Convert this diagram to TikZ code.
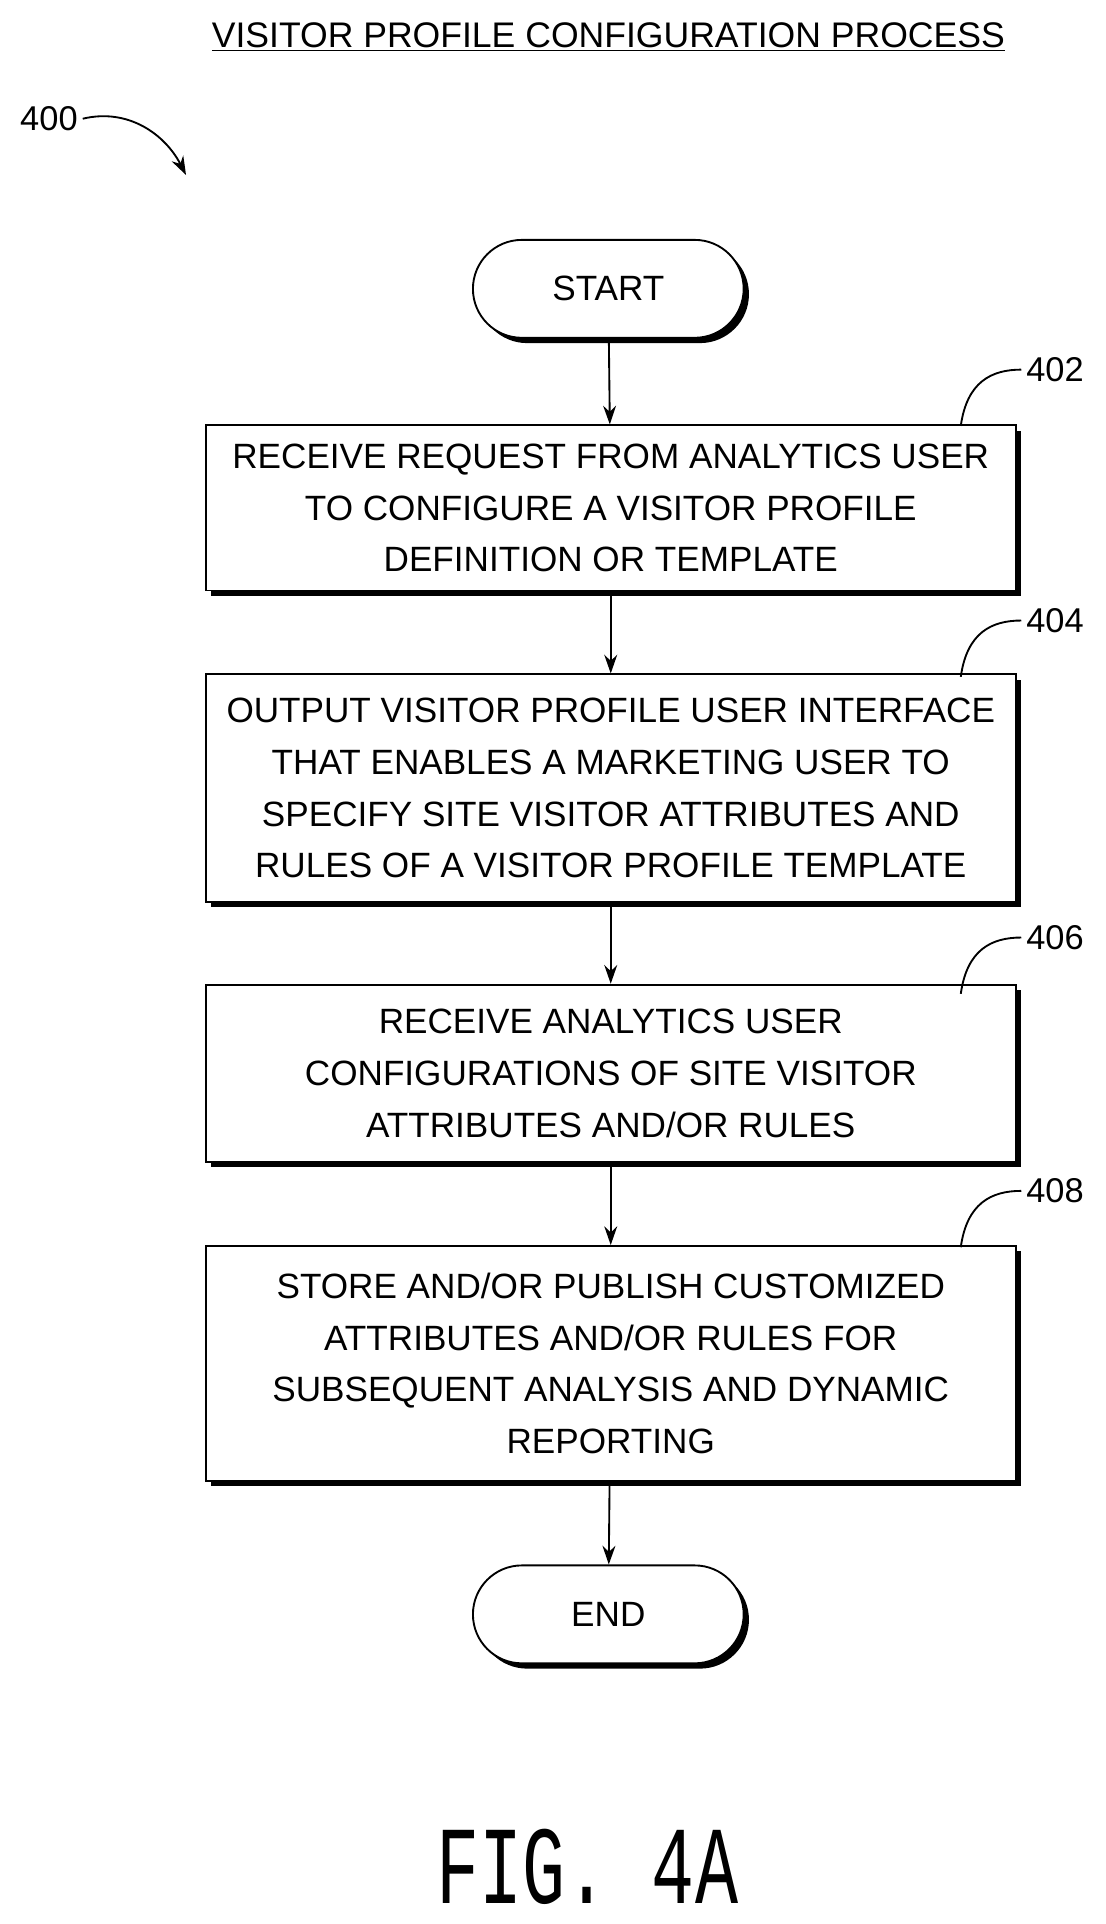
\documentclass[tikz,border=0pt]{standalone}
\usepackage{fontspec}
\setmainfont{Liberation Sans}
\setmonofont{Liberation Mono}
\usetikzlibrary{shapes.misc,shadows,arrows.meta}
\tikzset{
  boxshadow/.style={drop shadow={shadow xshift=0.13cm, shadow yshift=-0.13cm, opacity=1, fill=black}},
  procbox/.style={draw, line width=1.3pt, fill=white, boxshadow, minimum width=19.86cm, align=center,
    font=\fontsize{24.5}{36}\selectfont},
  termbox/.style={draw, line width=1.3pt, fill=white, boxshadow, rounded rectangle, minimum width=6.87cm,
    minimum height=2.4cm, font=\fontsize{24.5}{28}\selectfont},
  flow/.style={-{Stealth[length=13pt,width=9pt]}, line width=1.3pt},
  tag/.style={font=\fontsize{24}{28}\selectfont}
}
\begin{document}
\begin{tikzpicture}[x=0.03cm, y=-0.03cm]
        \useasboundingbox (0,0) rectangle (903,1572);

        % Title
        \node[font=\fontsize{24.8}{28}\selectfont] (title) at (497,30) {\underline{VISITOR PROFILE CONFIGURATION PROCESS}};
        \node[tag] (n400) at (40,97) {400};
        \coordinate (p400) at (152,143);
        \draw[flow] (n400.east) .. controls (105,88) and (135,110) .. (p400);

        % Nodes
        \node[termbox] (start) at (497,236) {START};
        \node[procbox, minimum height=4.05cm] (402) at (499,415) {RECEIVE REQUEST FROM ANALYTICS USER\\TO CONFIGURE A VISITOR PROFILE\\DEFINITION OR TEMPLATE};
        \node[procbox, minimum height=5.58cm] (404) at (499,644) {OUTPUT VISITOR PROFILE USER INTERFACE\\THAT ENABLES A MARKETING USER TO\\SPECIFY SITE VISITOR ATTRIBUTES AND\\RULES OF A VISITOR PROFILE TEMPLATE};
        \node[procbox, minimum height=4.35cm] (406) at (499,877) {RECEIVE ANALYTICS USER\\CONFIGURATIONS OF SITE VISITOR\\ATTRIBUTES AND/OR RULES};
        \node[procbox, minimum height=5.76cm] (408) at (499,1114) {STORE AND/OR PUBLISH CUSTOMIZED\\ATTRIBUTES AND/OR RULES FOR\\SUBSEQUENT ANALYSIS AND DYNAMIC\\REPORTING};
        \node[termbox] (end) at (497,1319) {END};

        % Reference labels
        \foreach \s/\y in {402/302, 404/507, 406/766, 408/973} {
            \node[tag] (l\s) at (862,\y) {\s};
            \coordinate (c\s) at (785,\y+46);
            \draw[line width=1.3pt] (c\s) .. controls (790,\y+10) and (810,\y) .. (l\s.west);
        }

        % Lines
        \draw[flow] (start) -- (402);
        \draw[flow] (402) -- (404);
        \draw[flow] (404) -- (406);
        \draw[flow] (406) -- (408);
        \draw[flow] (408) -- (end);

        \node[font=\ttfamily\fontsize{50}{60}\selectfont, yscale=1.55, transform shape] (fig) at (480,1525) {FIG. 4A};
\end{tikzpicture}
\end{document}
